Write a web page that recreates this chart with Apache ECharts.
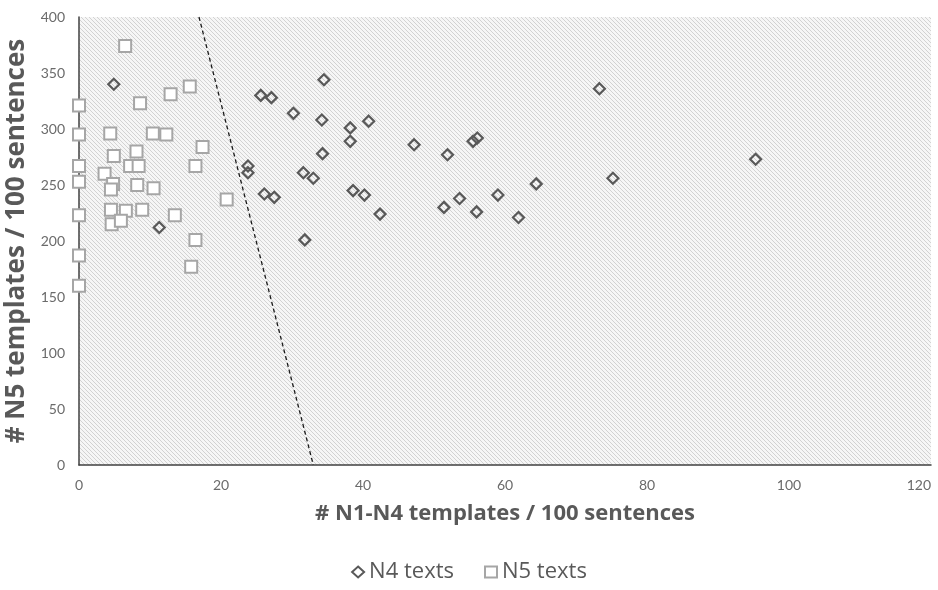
<!DOCTYPE html>
<html>
<head>
<meta charset="utf-8">
<script src="https://cdn.jsdelivr.net/npm/echarts@6/dist/echarts.min.js"></script>
<style>
html,body{margin:0;padding:0;background:#fff;}
#chart{width:938px;height:590px;}
</style>
</head>
<body>
<div id="chart"></div>
<script>
// ---- data ----
const n4Texts = [
  [4.9, 340], [11.3, 212], [23.8, 267], [23.8, 261], [25.6, 330], [27.1, 328],
  [26.1, 242], [27.5, 239], [30.2, 314], [31.6, 261], [33.0, 256], [31.8, 201],
  [34.2, 308], [34.5, 344], [34.3, 278], [38.2, 301], [38.2, 289], [38.6, 245],
  [40.2, 241], [40.8, 307], [42.4, 224], [47.2, 286], [51.4, 230], [51.9, 277],
  [53.6, 238], [55.5, 289], [56.1, 292], [56.0, 226], [59.0, 241], [61.9, 221],
  [64.4, 251], [73.3, 336], [75.2, 256], [95.3, 273]
];
const n5Texts = [
  [6.5, 374], [0, 321], [8.6, 323], [12.9, 331], [15.6, 338], [0, 295],
  [4.4, 296], [10.4, 296], [12.3, 295], [17.4, 284], [4.9, 276], [8.1, 280],
  [0, 267], [7.2, 267], [8.4, 267], [16.4, 267], [0, 253], [3.6, 260],
  [4.8, 251], [4.5, 246], [8.2, 250], [10.5, 247], [20.8, 237], [0, 223],
  [4.5, 228], [6.6, 227], [8.9, 228], [13.5, 223], [4.6, 215], [5.9, 218],
  [0, 187], [16.4, 201], [15.8, 177], [0, 160]
];
const separatorLine = [[16.9, 400], [33.0, 0]];
const xTicks = { min: 0, max: 120, interval: 20 };
const yTicks = { min: 0, max: 400, interval: 50 };
const seriesNames = ['N4 texts', 'N5 texts'];
const xTitle = '# N1-N4 templates / 100 sentences';
const yTitle = '# N5 templates / 100 sentences';

// hatch pattern
const pc = document.createElement('canvas');
pc.width = 4; pc.height = 4;
const pctx = pc.getContext('2d');
pctx.fillStyle = '#f6f6f6';
pctx.fillRect(0, 0, 4, 4);
pctx.fillStyle = '#d2d2d2';
for (let i = 0; i < 4; i++) { pctx.fillRect(i, i, 1, 1); }

const chart = echarts.init(document.getElementById('chart'), null, { renderer: 'canvas' });
const gray = '#595959';
chart.setOption({
  animation: false,
  backgroundColor: '#ffffff',
  grid: {
    left: 79, right: 7, top: 17, bottom: 125,
    containLabel: false, outerBoundsMode: 'none',
    show: true, borderWidth: 0,
    backgroundColor: { image: pc, repeat: 'repeat' }
  },
  xAxis: {
    type: 'value', min: xTicks.min, max: xTicks.max, interval: xTicks.interval,
    name: xTitle, nameLocation: 'middle', nameGap: 38,
    nameTextStyle: { fontFamily: 'Open Sans', fontWeight: 'bold', fontSize: 22, color: gray },
    axisLine: { show: true, lineStyle: { color: '#404040', width: 1.5 } },
    axisTick: { show: false },
    splitLine: { show: false },
    axisLabel: { color: '#6b6b6b', fontFamily: 'Lato', fontSize: 14, margin: 13, alignMaxLabel: 'right' }
  },
  yAxis: {
    type: 'value', min: yTicks.min, max: yTicks.max, interval: yTicks.interval,
    name: yTitle, nameLocation: 'middle', nameGap: 46,
    nameTextStyle: { fontFamily: 'Open Sans', fontWeight: 'bold', fontSize: 26, color: gray },
    axisLine: { show: true, lineStyle: { color: '#404040', width: 1.5 } },
    axisTick: { show: false },
    splitLine: { show: false },
    axisLabel: { color: '#6b6b6b', fontFamily: 'Lato', fontSize: 14, margin: 14 }
  },
  legend: {
    bottom: 2, left: 'center', itemGap: 30, itemWidth: 12, itemHeight: 11,
    textStyle: { fontFamily: 'Open Sans', fontSize: 22, color: gray },
    data: [
      { name: seriesNames[0], icon: 'diamond', itemStyle: { color: 'transparent', borderColor: gray, borderWidth: 2 } },
      { name: seriesNames[1], icon: 'rect', itemStyle: { color: '#ffffff', borderColor: '#a6a6a6', borderWidth: 2 } }
    ]
  },
  series: [
    {
      name: 'sep', type: 'line', data: separatorLine, symbol: 'none', silent: true,
      lineStyle: { color: '#1a1a1a', width: 1.3, type: [4, 3] }, z: 1
    },
    {
      name: seriesNames[0], type: 'scatter', data: n4Texts, symbol: 'diamond', symbolSize: 11,
      itemStyle: { color: 'rgba(0,0,0,0)', borderColor: gray, borderWidth: 2.2, opacity: 1 }, z: 3
    },
    {
      name: seriesNames[1], type: 'scatter', data: n5Texts, symbol: 'rect', symbolSize: 12,
      itemStyle: { color: '#ffffff', borderColor: '#a6a6a6', borderWidth: 2, opacity: 1 }, z: 2
    }
  ]
});
</script>
</body>
</html>
